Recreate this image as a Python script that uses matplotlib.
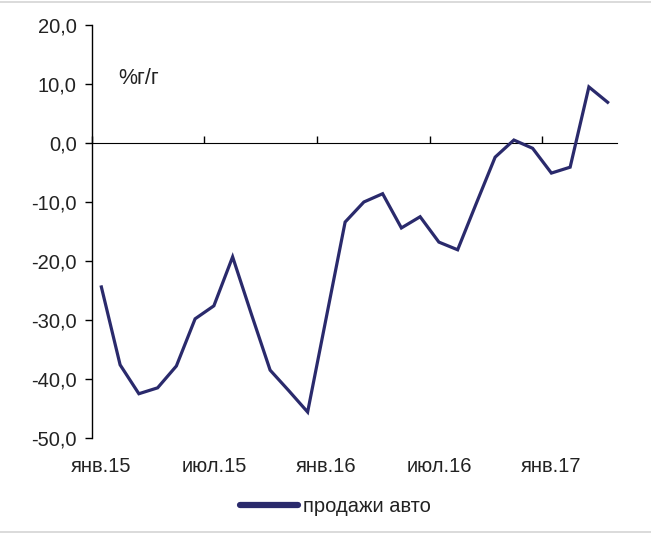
import matplotlib
matplotlib.use('Agg')
import matplotlib.pyplot as plt
from matplotlib.ticker import FuncFormatter
from matplotlib.lines import Line2D

plt.rcParams['font.family'] = ['Liberation Sans', 'DejaVu Sans']

# продажи авто, % г/г, помесячно янв.15 - апр.17
months = ['янв.15', 'фев.15', 'мар.15', 'апр.15', 'май.15', 'июн.15',
          'июл.15', 'авг.15', 'сен.15', 'окт.15', 'ноя.15', 'дек.15',
          'янв.16', 'фев.16', 'мар.16', 'апр.16', 'май.16', 'июн.16',
          'июл.16', 'авг.16', 'сен.16', 'окт.16', 'ноя.16', 'дек.16',
          'янв.17', 'фев.17', 'мар.17', 'апр.17']
car_sales = [-24.4, -37.6, -42.5, -41.5, -37.8, -29.8,
             -27.6, -19.3, -29.0, -38.5, -42.0, -45.6,
             -29.5, -13.4, -10.0, -8.6, -14.4, -12.5,
             -16.8, -18.1, -10.2, -2.4, 0.5, -0.9,
             -5.1, -4.1, 9.5, 6.9]
label_step = 6
y_min, y_max = -50, 20

line_color = '#2a2a6c'
text_color = '#222222'
font_size = 14.5

fig = plt.figure(figsize=(6.51, 5.34), dpi=100)
ax = fig.add_axes([0.1413, 0.1798, 0.8065, 0.7734])

x = list(range(len(months)))
ax.plot(x, car_sales, color=line_color, linewidth=2.3, solid_joinstyle='miter')

ax.set_xlim(-0.5, len(months) - 0.5)
ax.set_ylim(y_min, y_max)
ax.set_yticks(range(y_min, y_max + 1, 10))
ax.yaxis.set_major_formatter(FuncFormatter(lambda v, p: f'{v:.1f}'.replace('.', ',')))

for side in ['top', 'right', 'bottom']:
    ax.spines[side].set_visible(False)
ax.spines['left'].set_color('black')
ax.spines['left'].set_linewidth(1.0)
ax.tick_params(axis='y', direction='out', length=5, width=1, labelsize=font_size,
               labelcolor=text_color, pad=6)

# подписи месяцев снизу
ax.set_xticks(x[::label_step])
ax.set_xticklabels(months[::label_step])
ax.tick_params(axis='x', length=0, labelsize=font_size, labelcolor=text_color, pad=14)

# нулевая линия с засечками между категориями
zero_loc = (0 - y_min) / (y_max - y_min)
sec = ax.secondary_xaxis(zero_loc)
sec.spines['bottom'].set_color('black')
sec.spines['bottom'].set_linewidth(1.0)
sec.set_xticks([i - 0.5 for i in x[::label_step]])
sec.set_xticklabels([])
sec.tick_params(axis='x', direction='out', length=5, width=1)

ax.text(0.05, 0.87, '%г/г', transform=ax.transAxes, fontsize=font_size + 1,
        color=text_color, ha='left', va='center')

handle = Line2D([], [], color=line_color, linewidth=4.5, solid_capstyle='round')
fig.legend([handle], ['продажи авто'], loc='center', bbox_to_anchor=(0.515, 0.051),
           frameon=False, fontsize=font_size, handlelength=2.85, handletextpad=0.25,
           labelcolor=text_color)

# тонкие серые линии по краям картинки
for y_edge in (0.997, 0.004):
    fig.add_artist(Line2D([0, 1], [y_edge, y_edge], transform=fig.transFigure,
                          color='#d4d4d4', linewidth=1.2))

fig.savefig('out.png', dpi=100)
